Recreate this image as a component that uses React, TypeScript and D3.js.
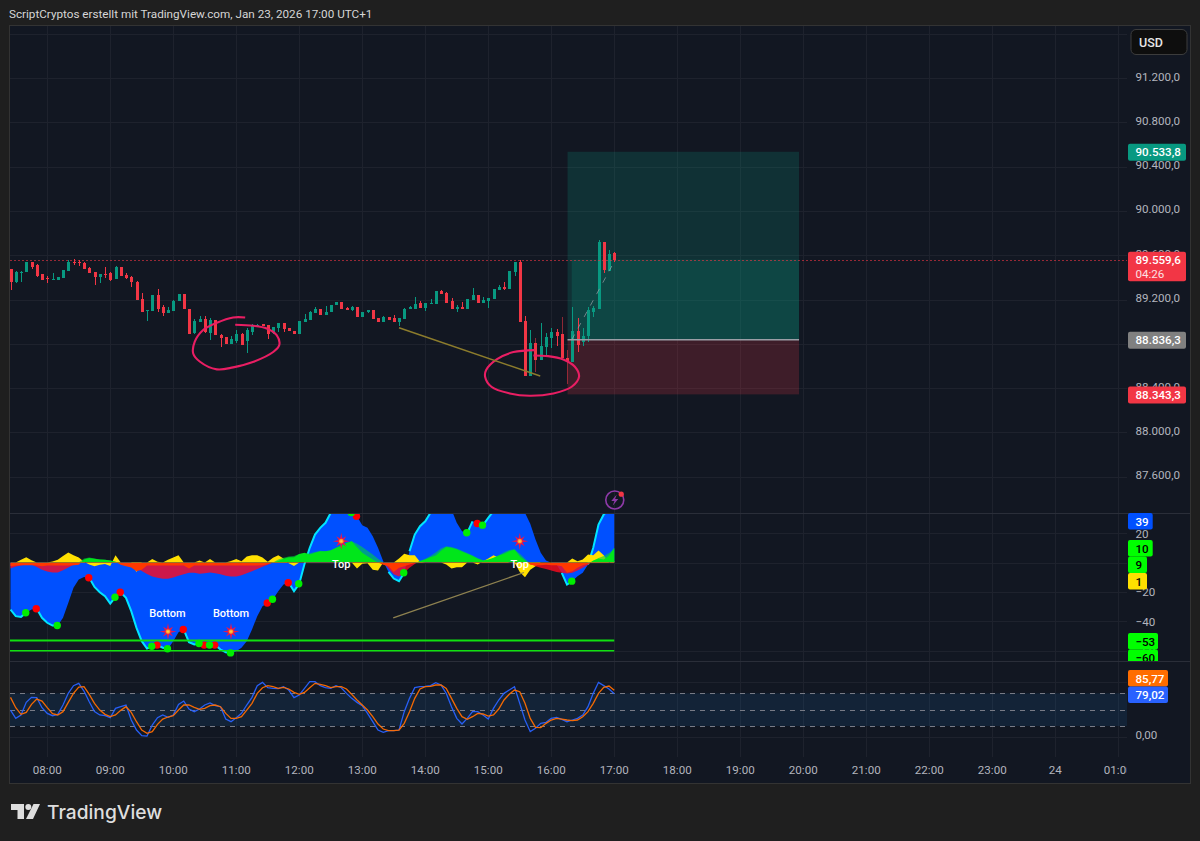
import React from "react";
import * as d3 from "d3";

// 5 minute candles, bar 0 = 07:25, last bar = 17:00
const opens = [
  89475, 89357, 89445, 89451, 89535, 89511, 89430, 89391, 89379, 89379,
  89397, 89460, 89541, 89541, 89532, 89487, 89445, 89406, 89433, 89442,
  89388, 89490, 89424, 89403, 89360, 89204, 89093, 89096, 89237, 89129,
  89081, 89096, 89183, 89246, 89117, 88894, 88999, 89026, 88900, 89011,
  88882, 88858, 88801, 88825, 88888, 88828, 88909, 88957, 88975, 88966,
  88894, 88942, 88987, 88942, 88918, 88891, 88999, 89014, 89075, 89111,
  89056, 89084, 89147, 89177, 89123, 89102, 89135, 89041, 89084, 89102,
  89029, 88996, 89038, 89035, 88996, 89023, 89114, 89117, 89168, 89126,
  89162, 89162, 89276, 89261, 89189, 89117, 89129, 89117, 89195, 89237,
  89171, 89189, 89207, 89285, 89315, 89291, 89451, 89541, 89005, 88512,
  88804, 88653, 88773, 88849, 88909, 88885, 88674, 88632, 88918, 88819,
  88870, 89090, 89111, 89716, 89460, 89616,
];
const highs = [
  89475, 89457, 89457, 89535, 89541, 89520, 89430, 89412, 89436, 89406,
  89466, 89556, 89562, 89556, 89541, 89490, 89445, 89427, 89490, 89451,
  89500, 89490, 89436, 89409, 89366, 89255, 89105, 89237, 89291, 89150,
  89135, 89195, 89246, 89246, 89117, 89020, 89050, 89050, 89029, 89014,
  88885, 88861, 88870, 88924, 88900, 88945, 88978, 88975, 88978, 88966,
  88954, 88990, 88990, 88942, 88918, 89005, 89065, 89099, 89135, 89117,
  89141, 89153, 89180, 89180, 89129, 89144, 89135, 89090, 89105, 89102,
  89029, 89047, 89038, 89056, 89032, 89120, 89144, 89225, 89189, 89171,
  89201, 89276, 89285, 89267, 89210, 89150, 89180, 89207, 89300, 89237,
  89219, 89210, 89291, 89330, 89360, 89454, 89541, 89556, 89050, 88924,
  88849, 88984, 88894, 88939, 88933, 89038, 88743, 89129, 89029, 88939,
  89135, 89141, 89737, 89720, 89646, 89631,
];
const lows = [
  89285, 89351, 89360, 89451, 89475, 89406, 89379, 89345, 89375, 89379,
  89397, 89460, 89511, 89502, 89478, 89436, 89330, 89345, 89397, 89370,
  89388, 89415, 89385, 89315, 89198, 89087, 89008, 89096, 89084, 89050,
  89081, 89096, 89183, 89111, 88885, 88885, 88999, 88894, 88834, 88879,
  88767, 88801, 88801, 88810, 88789, 88719, 88879, 88957, 88960, 88843,
  88888, 88903, 88909, 88915, 88891, 88885, 88999, 89014, 89075, 89059,
  89056, 89084, 89147, 89111, 89105, 89096, 89044, 89041, 89075, 89023,
  88996, 88996, 89014, 88999, 88960, 89023, 89114, 89117, 89126, 89099,
  89162, 89162, 89249, 89165, 89117, 89090, 89117, 89117, 89195, 89171,
  89171, 89120, 89207, 89285, 89285, 89291, 89412, 88999, 88512, 88512,
  88548, 88653, 88689, 88758, 88783, 88668, 88436, 88632, 88728, 88780,
  88819, 89044, 89111, 89436, 89466, 89541,
];
const closes = [
  89360, 89451, 89451, 89535, 89490, 89415, 89379, 89382, 89385, 89406,
  89466, 89535, 89526, 89532, 89478, 89436, 89406, 89427, 89424, 89375,
  89496, 89415, 89391, 89354, 89198, 89087, 89102, 89237, 89117, 89075,
  89105, 89186, 89246, 89111, 88885, 89008, 89026, 88909, 89014, 88879,
  88849, 88801, 88843, 88885, 88792, 88924, 88960, 88969, 88963, 88888,
  88951, 88987, 88933, 88915, 88891, 89005, 89023, 89090, 89117, 89059,
  89090, 89153, 89177, 89111, 89105, 89135, 89044, 89090, 89102, 89023,
  88996, 89044, 89014, 88999, 89032, 89117, 89135, 89159, 89126, 89171,
  89171, 89276, 89249, 89171, 89117, 89135, 89117, 89201, 89240, 89171,
  89198, 89210, 89291, 89312, 89291, 89454, 89541, 88999, 88512, 88804,
  88653, 88780, 88858, 88909, 88873, 88668, 88638, 88918, 88789, 88873,
  89105, 89120, 89716, 89466, 89610, 89559.6,
];
const dimWicks = [100, 105, 106];

const lastPrice = 89559.6;
const targetPrice = 90533.8;
const entryPrice = 88836.3;
const stopPrice = 88343.3;
const positionBars = [106.1, 150.2];
const pnlStartBar = 106.9;

// hand drawn marks on the price pane, [bar, price]
const scribbleLeft: [number, number][] = [
  [44.7, 89038], [42.4, 89038], [39.3, 88990], [36.7, 88924], [35.1, 88819], [34.8, 88713],
  [36.1, 88638], [39.3, 88569], [42.4, 88587], [46.3, 88638], [50.1, 88728], [51.2, 88789],
  [50.7, 88879], [48.8, 88939], [46.3, 88963], [42.8, 88972],
];
const scribbleRight: [number, number][] = [
  [99.9, 88743], [95.8, 88725], [92.6, 88659], [90.6, 88563], [90.4, 88503], [91.6, 88412],
  [95.1, 88352], [98.9, 88331], [103.4, 88352], [106.9, 88412], [108.3, 88503], [107.5, 88593],
  [105.3, 88659], [102.4, 88689], [99.6, 88695],
];
const trendPrice: [number, number][] = [[74, 88945], [100.9, 88509]];
const trendOsc: [number, number][] = [[72.9, -37.6], [97.8, -6.8]];

// oscillator pane
const wave = [
  -32, -36.5, -37, -34.2, -32, -31.5, -37.6, -41, -42.9, -42.9,
  -37.6, -27.5, -17.2, -11.6, -9.8, -10.4, -16.6, -20.2, -22.9, -27.9,
  -23.6, -20.2, -24, -33.1, -44.5, -53.5, -58.5, -57, -56.2, -58,
  -58.7, -53.5, -47.4, -45.6, -54.2, -55.8, -55.1, -56.2, -56.2, -56.2,
  -59.2, -61, -61.5, -60.3, -58, -53.5, -45.6, -36.5, -29.7, -27.5,
  -25, -19.5, -15, -13.8, -19.5, -14.5, -1, 10, 19, 23.6,
  27, 33.8, 38, 42, 44, 34, 31.5, 25.4, 23.6, 17.9,
  10, 0.9, -6.4, -10.9, -12.7, -7, 7.7, 19, 24.7, 28,
  33.8, 40, 44, 45, 36, 27, 21.3, 20.2, 28, 26.5,
  25.4, 30.4, 35, 42, 45, 46, 44, 42, 33.8, 26.3,
  15.6, 6.6, 1.4, -0.2, -1.4, -7, -15, -12.7, -9.3, -7,
  -1.4, 10, 25.8, 32.7, 36, 39,
];
const yellowFlow = [
  0, 0, 1.8, 3.6, 1.6, 0, 0, 0, 0.7, 1.8,
  4.5, 6.8, 5, 3.4, 0.5, -1.4, -2.5, -1.6, -1.1, -2.3,
  5, 0, 0, 0, -6.5, 0, 0, 2.3, 0.5, 0,
  1.8, 3.4, 5, 0, 0, 0, 1.4, 0, 2.3, 0,
  0, 0, 1.1, 2.3, 0.9, 4, 5, 5, 3.4, 0.5,
  3.2, 5, 2.7, -0.5, -2.3, 0, 0, 0, 0, 0,
  0, 0, 0, 0, 0, 0, -4, -0.9, -0.5, -5,
  -5.4, 0, 0, 0, 2.7, 5.9, 5, 5, 0.5, 0,
  0, 0, 0, -1.4, -4, -3.2, -3.2, 0, 0, -1.4,
  0.9, 2.7, 5, 3.2, 1.4, 0, 0, -6.4, -10, -5,
  -2.5, 0, 0, 0, 0, 0, 0, 2.7, 0.9, 2,
  5.4, 5, 8.2, 5, 0, 1,
];
const brightFlow = [
  -2.5, -2, -1.8, -1.8, -1.8, -2, -2.5, -2, -2, -2,
  -2, -2, -1.8, -1.5, 2, 3, 2.5, 2, 1.8, 1.4,
  0.5, -1.5, -2.5, -3.4, -6, -5, -2, -2, -2, -2,
  -2, -2, -2, -2, -4, -2, -2, -2, -2, -2,
  -2, -2, -2, -2, -2, -2, -2, -2, -1.8, -1.2,
  0, 1, 2.5, 3.5, 3.5, 5.7, 6.6, 5.4, 6.6, 7.7,
  7.7, 8.4, 10, 11.6, 13.4, 14.5, 10.4, 6.6, 4.3, 2,
  0, -1.5, -2.5, -6.4, -3.6, -2.5, -1.4, -0.5, 1, 2,
  3.5, 4.8, 8, 10.5, 10, 9, 7.5, 6, 4.5, 2.5,
  1.4, 2, 3.2, 4.8, 6, 7.7, 8.8, 4.3, 1.4, -1.5,
  -1.8, -1.8, -1.5, -1.8, -1.8, -2.5, -7, -6, -3.6, -1.8,
  -1, 1.4, 2.7, 2, 4.8, 10,
];
const slowFlow = [
  -4.1, -2.7, -2, -1.4, -1.4, -3, -5, -6.1, -6.8, -6.8,
  -5.2, -3.4, -1.6, 0, 2.7, 3.4, 2.7, 2, 1.8, 1.4,
  0.5, -0.5, -1.6, -2.3, -3.4, -5.7, -7.9, -9.5, -10.4, -11.1,
  -11.1, -10.2, -9, -8, -7, -7, -7.7, -7.3, -6.8, -7.3,
  -8, -9, -9.5, -9.5, -8.6, -7.3, -5.9, -4.5, -2.9, -1.6,
  0, 2, 3.2, 4, 4.5, 5.7, 5.9, 6.3, 7.2, 8,
  7.7, 8, 9, 11, 13, 14.5, 12.7, 10.5, 8, 5.5,
  2.5, 0, -4, -8, -9.5, -7, -3.5, -1, 1, 2.5,
  4.5, 6.8, 9.5, 11, 10.5, 9.5, 8, 6.5, 5, 3,
  1.5, 1, 3, 5, 7, 8.5, 9, 6, 2.5, -1,
  -2.5, -3.5, -4.5, -5.5, -6.5, -7, -7.5, -7, -5.5, -3.5,
  -1.5, 1, 3, 4.5, 6.5, 9,
];
const cyanRanges = [
  [0, 3], [5, 9], [15, 20], [21, 27], [28, 30], [33, 36], [37, 38], [39, 42], [53, 55],
  [55, 62], [72, 75], [76, 81], [87, 88], [90, 92], [105, 107], [110, 115],
];
const redDots = [5, 15, 21, 28, 33, 37, 39, 49, 53, 66, 89];
const greenDots = [3, 9, 20, 27, 30, 36, 38, 42, 50, 55, 65, 75, 87, 90, 107];
const levelLines = [-53, -60];
const burstBars = [
  { bar: 30, value: -47 },
  { bar: 42, value: -47 },
  { bar: 63, value: 14.5 },
  { bar: 97, value: 14.5 },
];
const signalLabels = [
  { text: "Bottom", bar: 29.9, value: -34.4 },
  { text: "Bottom", bar: 42, value: -34.4 },
  { text: "Top", bar: 63, value: -0.9 },
  { text: "Top", bar: 97, value: -0.9 },
];

// stochastic pane
const stochK = [
  49.3, 34, 40.2, 63.4, 72.6, 72, 53.6, 43.2, 38.9, 41.4,
  58.5, 79.9, 94, 98.3, 84.2, 64.6, 46.3, 40.2, 38.9, 35.3,
  52.4, 55.4, 58.5, 31, 12.6, 2.2, 1.6, 21.8, 35.3, 40.2,
  35.9, 40.2, 59.7, 65.8, 51.2, 46.3, 51.2, 58.5, 62.2, 57.3,
  55.4, 32.8, 27.9, 35.3, 43.2, 58.5, 72.6, 94, 100.1, 90.3,
  89, 88.5, 92.1, 86, 72, 76.9, 89, 101.3, 101.3, 94,
  90.3, 89, 94, 90.3, 79.9, 70.7, 63.4, 57.3, 43.2, 27.9,
  12.6, 8.3, 11.4, 11.4, 12.6, 46.3, 70.7, 90.3, 92.1, 92.8,
  94, 99.5, 95.2, 79.9, 55.4, 34, 23.6, 34, 46.3, 46.3,
  40.2, 32.8, 52.4, 67.7, 79.9, 86, 92.1, 61.6, 31, 9.6,
  15.7, 24.9, 26.7, 34, 35.9, 32.2, 27.9, 31, 34, 40.2,
  55.4, 79.9, 100.1, 94, 87.9, 79.02,
];
const stochD = [
  72.6, 53.6, 41.4, 45, 59.7, 69.5, 65.8, 53.6, 42.6, 40.2,
  46.3, 63.4, 79.9, 91.5, 92.1, 78.1, 61.6, 49.3, 41.4, 37.1,
  40.2, 48.7, 55.4, 45, 27.9, 12.6, 6.5, 9.6, 23, 32.8,
  36.5, 38.9, 49.3, 58.5, 58.5, 54.2, 50.6, 52.4, 57.3, 58.5,
  55.4, 43.2, 34, 34, 37.1, 49.3, 61.6, 79.9, 90.3, 94,
  92.1, 89, 90.9, 87.9, 81.7, 78.1, 81.7, 90.3, 98.3, 96.4,
  94, 90.3, 92.1, 92.1, 87.9, 78.1, 67.7, 58.5, 49.3, 37.1,
  23.6, 14.5, 11.4, 11.4, 12.6, 24.9, 46.3, 70.7, 87.9, 92.1,
  92.8, 95.2, 95.2, 89, 70.7, 52.4, 37.1, 32.2, 37.1, 43.2,
  42, 38.3, 40.2, 51.2, 67.7, 78.1, 86, 83, 61.6, 34,
  17.5, 16.9, 24.9, 31, 34, 32.8, 31, 29.8, 31, 37.1,
  46.3, 61.6, 79.9, 90.9, 93.4, 85.77,
];
const stochBands = [80, 50, 20];

// axes
const timeLabels = [
  "08:00", "09:00", "10:00", "11:00", "12:00", "13:00", "14:00", "15:00", "16:00",
  "17:00", "18:00", "19:00", "20:00", "21:00", "22:00", "23:00", "24", "01:00",
];
const priceTicks = [91200, 90800, 90400, 90000, 89600, 89200, 88800, 88400, 88000, 87600];
const oscTicks = [20, -20, -40, -60];
const oscGrid = [20, 0, -20, -40, -60];
const stochGrid = [100, 0];

const BG = "#1f1f1f";
const PLOT = "#121722";
const GRID = "#1e222d";
const UP = "#089981";
const DOWN = "#f23645";
const AXIS_TEXT = "#b2b5be";
const FONT = "Roboto, 'Noto Sans', sans-serif";
const AXIS_SIZE = 11.6;

const plotL = 10;
const plotR = 1127;
const axisR = 1190;
const pane1Top = 26;
const pane2Top = 513;
const pane3Top = 661;
const paneBottom = 757;
const frameBottom = 783;

const x = d3.scaleLinear().domain([0, 115]).range([10.5, 614.25]);
const yPrice = d3.scaleLinear().domain([91200, 87600]).range([78, 476.7]);
const yOsc = d3.scaleLinear().domain([20, -60]).range([533.1, 650.7]);
const yStoch = d3.scaleLinear().domain([0, 80]).range([736.9, 693.3]);

const de = d3.formatLocale({ decimal: ",", thousands: ".", grouping: [3], currency: ["", ""] });
const fmtPrice = de.format(",.1f");
const fmtStoch = de.format(".2f");

const snap = (v: number) => Math.round(v) + 0.5;
const bars = d3.range(opens.length);

function valueArea(values: number[]) {
  return d3
    .area<number>()
    .x((i) => x(i))
    .y0(yOsc(0))
    .y1((i) => yOsc(values[i]))(bars) as string;
}

function seriesLine(values: number[], scale: (v: number) => number, from = 0, to = 115) {
  return d3
    .line<number>()
    .x((i) => x(i))
    .y((i) => scale(values[i]))(d3.range(from, to + 1)) as string;
}

const priceScribble = d3
  .line<[number, number]>()
  .x((d) => x(d[0]))
  .y((d) => yPrice(d[1]))
  .curve(d3.curveCatmullRom.alpha(0.5));

const burstPath = d3
  .lineRadial<number>()
  .angle((_, i) => (i * Math.PI) / 8)
  .radius((r) => r)
  .curve(d3.curveLinearClosed)(d3.range(16).map((i) => (i % 2 === 0 ? (i % 4 === 0 ? 8.5 : 7) : 3))) as string;

function PriceTag({ y, h = 17, w = 58, fill, text, sub, color = "#fff" }: any) {
  return (
    <g>
      <rect x={1128} y={y} width={w} height={h} rx={2} fill={fill} />
      <text x={1135.5} y={y + 12.5} fill={color} fontSize={AXIS_SIZE} fontWeight={500} fontFamily={FONT}>
        {text}
      </text>
      {sub && (
        <text x={1135.5} y={y + 26} fill={color} fontSize={AXIS_SIZE} opacity={0.85} fontFamily={FONT}>
          {sub}
        </text>
      )}
    </g>
  );
}

function OscTag({ y, w, fill, text, color = "#000" }: any) {
  return (
    <g>
      <rect x={1128} y={y} width={w} height={16.5} rx={2} fill={fill} />
      <text x={1135.5} y={y + 12.5} fill={color} fontSize={AXIS_SIZE} fontWeight={500} fontFamily={FONT}>
        {text}
      </text>
    </g>
  );
}

export default function App() {
  const boltX = x(115.1);
  return (
    <svg
      width={1200}
      height={841}
      style={{ position: "absolute", left: 0, top: 0, display: "block", background: BG }}
    >
      <defs>
        <clipPath id="oscClip">
          <rect x={plotL} y={pane2Top} width={plotR - plotL} height={pane3Top - pane2Top} />
        </clipPath>
        <clipPath id="oscTagClip">
          <rect x={1120} y={pane2Top} width={70} height={pane3Top - pane2Top} />
        </clipPath>
        <clipPath id="aboveZero">
          <rect x={plotL} y={pane2Top} width={plotR - plotL} height={yOsc(0) - pane2Top} />
        </clipPath>
        <clipPath id="belowZero">
          <rect x={plotL} y={yOsc(0)} width={plotR - plotL} height={pane3Top - yOsc(0)} />
        </clipPath>
        <clipPath id="timeClip">
          <rect x={plotL} y={paneBottom} width={plotR - plotL} height={frameBottom - paneBottom} />
        </clipPath>
        <radialGradient id="burstCore">
          <stop offset="0%" stopColor="#ffe14a" />
          <stop offset="100%" stopColor="#ff7a1a" />
        </radialGradient>
      </defs>

      <text x={9} y={18} fill="#d6d6d6" fontSize={11.7} fontFamily={FONT}>
        ScriptCryptos erstellt mit TradingView.com, Jan 23, 2026 17:00 UTC+1
      </text>

      {/* chart frame */}
      <rect
        x={plotL - 0.5}
        y={pane1Top - 0.5}
        width={axisR - plotL + 1}
        height={frameBottom - pane1Top + 1}
        fill={PLOT}
        stroke="#333333"
      />

      {/* grid */}
      {timeLabels.map((_, k) => (
        <line
          key={k}
          x1={snap(x(7 + 12 * k))}
          x2={snap(x(7 + 12 * k))}
          y1={pane1Top}
          y2={paneBottom}
          stroke={GRID}
        />
      ))}
      {[91600, ...priceTicks].map((p) => (
        <line key={p} x1={plotL} x2={plotR} y1={snap(yPrice(p))} y2={snap(yPrice(p))} stroke={GRID} />
      ))}
      {oscGrid.map((v) => (
        <line key={v} x1={plotL} x2={plotR} y1={snap(yOsc(v))} y2={snap(yOsc(v))} stroke={GRID} />
      ))}
      {stochGrid.map((v) => (
        <line key={v} x1={plotL} x2={plotR} y1={snap(yStoch(v))} y2={snap(yStoch(v))} stroke={GRID} />
      ))}

      {/* long position box */}
      <g>
        <rect
          x={x(positionBars[0])}
          width={x(positionBars[1]) - x(positionBars[0])}
          y={yPrice(targetPrice)}
          height={yPrice(entryPrice) - yPrice(targetPrice)}
          fill="#089981"
          fillOpacity={0.2}
        />
        <rect
          x={x(pnlStartBar)}
          width={x(positionBars[1]) - x(pnlStartBar)}
          y={yPrice(lastPrice)}
          height={yPrice(entryPrice) - yPrice(lastPrice)}
          fill="#089981"
          fillOpacity={0.2}
        />
        <rect
          x={x(positionBars[0])}
          width={x(positionBars[1]) - x(positionBars[0])}
          y={yPrice(entryPrice)}
          height={yPrice(stopPrice) - yPrice(entryPrice)}
          fill="#f23645"
          fillOpacity={0.2}
        />
      </g>

      {/* candles */}
      {bars.map((i) => {
        const color = closes[i] >= opens[i] ? UP : DOWN;
        const top = Math.round(yPrice(Math.max(opens[i], closes[i])));
        const bottom = Math.round(yPrice(Math.min(opens[i], closes[i])));
        const wickTop = Math.round(yPrice(highs[i]));
        const wickBottom = Math.round(yPrice(lows[i]));
        const cx = Math.round(x(i));
        return (
          <g key={i}>
            <rect
              x={cx}
              width={1}
              y={wickTop}
              height={wickBottom - wickTop}
              fill={color}
              opacity={dimWicks.includes(i) ? 0.55 : 1}
            />
            <rect x={cx - 1} width={3} y={top} height={Math.max(1, bottom - top)} fill={color} />
          </g>
        );
      })}

      <line
        x1={x(positionBars[0])}
        x2={x(positionBars[1])}
        y1={yPrice(entryPrice)}
        y2={yPrice(entryPrice)}
        stroke="#9a9ea6"
        strokeWidth={1.5}
      />
      <line
        x1={x(pnlStartBar)}
        x2={x(115.2)}
        y1={yPrice(entryPrice)}
        y2={yPrice(lastPrice)}
        stroke="#9a9ea6"
        strokeOpacity={0.7}
        strokeDasharray="6 7"
      />

      {/* last price */}
      <line
        x1={plotL}
        x2={plotR}
        y1={snap(yPrice(lastPrice))}
        y2={snap(yPrice(lastPrice))}
        stroke={DOWN}
        strokeOpacity={0.6}
        strokeDasharray="2 2"
      />

      {/* drawings */}
      <path d={priceScribble(scribbleLeft) as string} fill="none" stroke="#e91e63" strokeWidth={2.1} />
      <path d={priceScribble(scribbleRight) as string} fill="none" stroke="#e91e63" strokeWidth={2.1} />
      <line
        x1={x(trendPrice[0][0])}
        y1={yPrice(trendPrice[0][1])}
        x2={x(trendPrice[1][0])}
        y2={yPrice(trendPrice[1][1])}
        stroke="#8c7c2c"
        strokeWidth={1.5}
      />

      {/* alert icon */}
      <g fill="none">
        <circle cx={boltX} cy={500} r={9} stroke="#8e3aa8" strokeWidth={1.6} />
        <path
          d={`M${boltX + 2} 494.5 L${boltX - 3.5} 501 L${boltX - 0.3} 501 L${boltX - 2} 505.5 L${boltX + 3.5} 499 L${boltX + 0.3} 499 Z`}
          fill="#8e3aa8"
        />
        <circle cx={boltX + 6.5} cy={494.2} r={2.6} fill={DOWN} />
      </g>

      {/* oscillator pane */}
      <g clipPath="url(#oscClip)">
        <path d={valueArea(wave)} fill="#0050ff" />
        {cyanRanges.map(([a, b]) => (
          <path key={a} d={seriesLine(wave, yOsc, a, b)} fill="none" stroke="#00e5ff" strokeWidth={2} />
        ))}
        <path d={valueArea(yellowFlow)} fill="#ffe000" />
        <g clipPath="url(#aboveZero)">
          <path d={valueArea(slowFlow)} fill="#00d040" fillOpacity={0.6} />
          <path d={valueArea(brightFlow)} fill="#00e61a" />
        </g>
        <g clipPath="url(#belowZero)">
          <path d={valueArea(slowFlow)} fill="#ff0a1e" fillOpacity={0.8} />
          <path d={valueArea(brightFlow)} fill="#ff3800" />
        </g>
        {levelLines.map((v, k) => (
          <line
            key={v}
            x1={plotL}
            x2={x(115)}
            y1={yOsc(v)}
            y2={yOsc(v)}
            stroke="#10e010"
            strokeWidth={k === 0 ? 2 : 1.6}
          />
        ))}
        <line
          x1={x(trendOsc[0][0])}
          y1={yOsc(trendOsc[0][1])}
          x2={x(trendOsc[1][0])}
          y2={yOsc(trendOsc[1][1])}
          stroke="#8f8250"
          strokeWidth={1.3}
        />
        {redDots.map((i) => (
          <circle key={i} cx={x(i) - 0.5} cy={yOsc(wave[i])} r={3.7} fill="#ff0000" />
        ))}
        {greenDots.map((i) => (
          <circle key={i} cx={x(i) - 0.5} cy={yOsc(wave[i])} r={3.7} fill="#00ee00" />
        ))}
        {burstBars.map((b) => (
          <g key={b.bar} transform={`translate(${x(b.bar)},${yOsc(b.value)})`}>
            <path d={burstPath} fill="#e8174f" />
            <circle r={2.4} fill="url(#burstCore)" />
          </g>
        ))}
        {signalLabels.map((l) => (
          <text
            key={l.bar}
            x={x(l.bar)}
            y={yOsc(l.value) + 4}
            textAnchor="middle"
            fill="#ffffff"
            fontSize={11}
            fontWeight={500}
            fontFamily={FONT}
          >
            {l.text}
          </text>
        ))}
      </g>

      {/* stoch pane */}
      <rect
        x={plotL}
        width={plotR - plotL}
        y={yStoch(80)}
        height={yStoch(20) - yStoch(80)}
        fill="#2196f3"
        fillOpacity={0.1}
      />
      {stochBands.map((v) => (
        <line
          key={v}
          x1={plotL}
          x2={plotR}
          y1={snap(yStoch(v))}
          y2={snap(yStoch(v))}
          stroke="#787b86"
          strokeDasharray="5 5"
        />
      ))}
      <path d={seriesLine(stochK, yStoch)} fill="none" stroke="#2962ff" strokeOpacity={0.95} strokeWidth={1.3} />
      <path d={seriesLine(stochD, yStoch)} fill="none" stroke="#ff6d00" strokeOpacity={0.95} strokeWidth={1.3} />

      {/* pane separators */}
      {[pane2Top, pane3Top].map((py) => (
        <line key={py} x1={plotL} x2={axisR} y1={py + 0.5} y2={py + 0.5} stroke="#2a2e39" />
      ))}

      {/* time axis */}
      <g clipPath="url(#timeClip)">
        {timeLabels.map((t, k) => (
          <text
            key={t}
            x={x(7 + 12 * k)}
            y={774}
            textAnchor="middle"
            fill={AXIS_TEXT}
            fontSize={AXIS_SIZE}
            fontFamily={FONT}
          >
            {t}
          </text>
        ))}
      </g>

      {/* price axis */}
      <g fill={AXIS_TEXT} fontSize={AXIS_SIZE} fontFamily={FONT}>
        {priceTicks.map((p) => (
          <text key={p} x={1135.5} y={yPrice(p) + 2.5}>
            {fmtPrice(p)}
          </text>
        ))}
        {oscTicks.map((v) => (
          <text key={v} x={1135.5} y={yOsc(v) + 4.5}>
            {d3.format("d")(v)}
          </text>
        ))}
        <text x={1135.5} y={yStoch(0) + 2}>
          {fmtStoch(0)}
        </text>
      </g>

      <PriceTag y={yPrice(targetPrice) - 8} fill={UP} text={fmtPrice(targetPrice)} />
      <PriceTag y={yPrice(lastPrice) - 8} h={29.5} fill={DOWN} text={fmtPrice(lastPrice)} sub="04:26" />
      <PriceTag y={yPrice(entryPrice) - 8} fill="#808080" text={fmtPrice(entryPrice)} />
      <PriceTag y={yPrice(stopPrice) - 8} fill={DOWN} text={fmtPrice(stopPrice)} />

      <g clipPath="url(#oscTagClip)">
        <OscTag y={513} w={24.7} fill="#0050ff" text="39" color="#fff" />
        <OscTag y={540} w={24.7} fill="#00ff00" text="10" />
        <OscTag y={556.5} w={19} fill="#00ff00" text="9" />
        <OscTag y={573} w={19} fill="#ffe000" text="1" />
        <OscTag y={633} w={30} fill="#00ff00" text="−53" />
        <OscTag y={649.5} w={30} fill="#00ff00" text="−60" />
      </g>
      <OscTag y={670} w={40} fill="#ff6d00" text={fmtStoch(85.77)} color="#fff" />
      <OscTag y={686.5} w={40} fill="#2962ff" text={fmtStoch(79.02)} color="#fff" />

      {/* currency button */}
      <rect x={1131} y={29.5} width={56} height={25} rx={5} fill="#0e0e0e" stroke="#3c3c3c" />
      <text x={1139} y={46.5} fill="#e6e6e6" fontSize={12.5} fontWeight={500} fontFamily={FONT}>
        USD
      </text>

      {/* logo */}
      <g fill="#dedede">
        <path d="M11 804 H24 V819 H17.5 V810 H11 Z" />
        <circle cx={28.3} cy={807} r={3} />
        <path d="M33.5 804 H40 L33 819 H26 Z" />
        <text x={47} y={818.5} fontSize={19.2} fontWeight={500} fontFamily="Inter, Roboto, sans-serif">
          TradingView
        </text>
      </g>
    </svg>
  );
}
